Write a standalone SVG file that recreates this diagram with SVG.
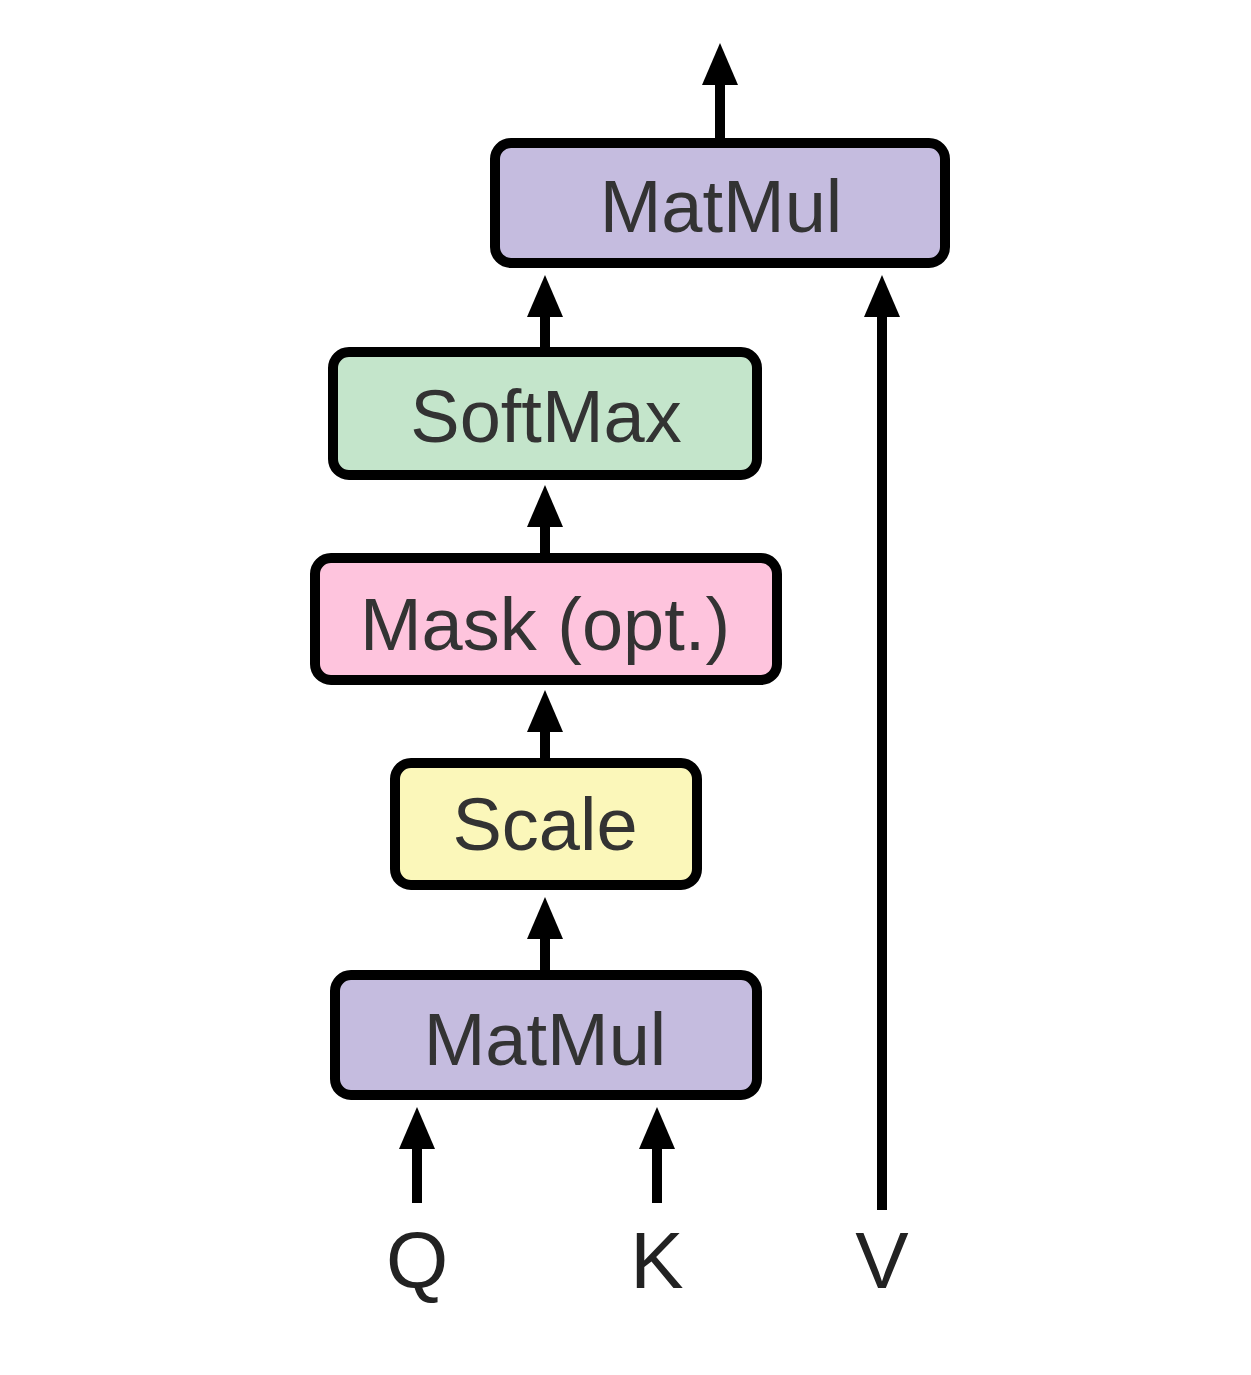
<svg xmlns="http://www.w3.org/2000/svg" width="1251" height="1375" viewBox="0 0 1251 1375">
<style>
.box{stroke:#000;stroke-width:10}
.lbl{font-family:"Liberation Sans",Arial,sans-serif;font-size:74px;fill:#333;text-anchor:middle}
.io{font-family:"Liberation Sans",Arial,sans-serif;font-size:80px;fill:#222;text-anchor:middle}
.edge{stroke:#000;stroke-width:10;fill:none;marker-end:url(#ah)}
</style>
<defs>
<marker id="ah" markerUnits="userSpaceOnUse" markerWidth="44" markerHeight="38" refX="12" refY="18" orient="auto">
<path d="M0,0 L42,18 L0,36 z" fill="#000"/>
</marker>
</defs>
<rect width="1251" height="1375" fill="#fff"/>
<g id="connectors">
<line class="edge" x1="720" y1="140" x2="720" y2="73"/>
<line class="edge" x1="545" y1="348" x2="545" y2="305"/>
<line class="edge" x1="882" y1="1210" x2="882" y2="305"/>
<line class="edge" x1="545" y1="554" x2="545" y2="515"/>
<line class="edge" x1="545" y1="759" x2="545" y2="720"/>
<line class="edge" x1="545" y1="971" x2="545" y2="927"/>
<line class="edge" x1="417" y1="1203" x2="417" y2="1137"/>
<line class="edge" x1="657" y1="1203" x2="657" y2="1137"/>
</g>
<g id="matmul_top">
<rect class="box" x="495" y="143" width="450" height="120" rx="16" fill="#c5bcdf"/>
<text class="lbl" x="721" y="232">MatMul</text>
</g>
<g id="softmax">
<rect class="box" x="333" y="352" width="424" height="123" rx="16" fill="#c4e5cb"/>
<text class="lbl" x="546" y="442">SoftMax</text>
</g>
<g id="mask">
<rect class="box" x="315" y="558" width="462" height="122" rx="16" fill="#fec4dd"/>
<text class="lbl" x="545" y="650">Mask (opt.)</text>
</g>
<g id="scale">
<rect class="box" x="395" y="763" width="302" height="122" rx="16" fill="#fbf7ba"/>
<text class="lbl" x="545" y="850">Scale</text>
</g>
<g id="matmul_bottom">
<rect class="box" x="335" y="975" width="422" height="120" rx="16" fill="#c5bcdf"/>
<text class="lbl" x="545" y="1065">MatMul</text>
</g>
<g id="q"><text class="io" x="417" y="1288">Q</text></g>
<g id="k"><text class="io" x="657" y="1288">K</text></g>
<g id="v"><text class="io" x="882" y="1288">V</text></g>
</svg>
